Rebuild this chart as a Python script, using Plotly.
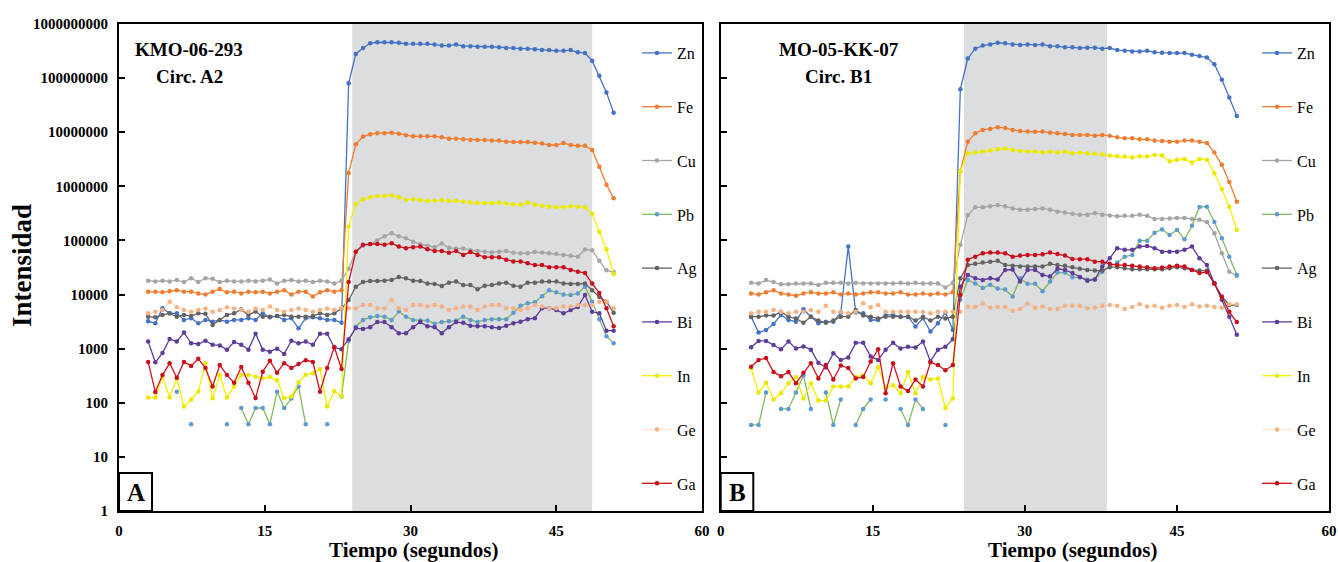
import plotly.graph_objects as go

# ---------------- data ----------------
TIME = [round(3 + 0.737 * i, 3) for i in range(66)]   # LA-ICP-MS sweep times (s)
ELEMENTS = ["Zn", "Fe", "Cu", "Pb", "Ag", "Bi", "In", "Ge", "Ga"]
X_TICKS = [0, 15, 30, 45, 60]
Y_TICKS = [1, 10, 100, 1000, 10000, 100000, 1000000, 10000000, 100000000, 1000000000]
Y_TICK_LABELS = ["1", "10", "100", "1000", "10000", "100000", "1000000", "10000000", "100000000", "1000000000"]
SHADE_A = [24.0, 48.7]
SHADE_B = [24.0, 38.1]
LABEL_A = ["KMO-06-293", "Circ. A2"]
LABEL_B = ["MO-05-KK-07", "Circ. B1"]

ZN_A = [3200, 2950, 5580, 4500, 4500, 3400, 3650, 2950, 3400, 3150, 3400, 3150, 3400, 3400, 3650, 3400, 4500, 3800, 4000, 3400, 3650, 2380, 3650, 3800, 3650, 3400, 3400, 3000,
        8e7, 2.8e8, 3.6e8, 4.4e8, 4.6e8, 4.6e8, 4.6e8, 4.5e8, 4.3e8, 4.3e8, 4.3e8, 4.3e8, 4.2e8, 4.0e8, 4.0e8, 4.2e8, 3.9e8, 3.9e8, 3.8e8, 3.8e8, 3.8e8, 3.7e8, 3.6e8, 3.6e8, 3.5e8, 3.5e8, 3.4e8, 3.3e8, 3.3e8, 3.2e8, 3.2e8, 3.3e8, 3.0e8, 2.9e8, 2.1e8, 1.1e8, 5.4e7, 2.3e7]
FE_A = [1.13e4, 1.13e4, 1.1e4, 1.15e4, 1.2e4, 1.13e4, 1.13e4, 1.05e4, 1.0e4, 1.13e4, 1.26e4, 1.1e4, 1.13e4, 1.05e4, 1.13e4, 1.1e4, 1.13e4, 1.05e4, 1.13e4, 1.2e4, 1.0e4, 1.13e4, 1.13e4, 9200, 1.1e4, 1.2e4, 1.13e4, 1.2e4,
        1.77e6, 6e6, 8.3e6, 9.2e6, 9.6e6, 9.6e6, 9.8e6, 9.4e6, 8.8e6, 8.4e6, 8.4e6, 8.4e6, 8.4e6, 8.1e6, 7.6e6, 7.6e6, 7.4e6, 7.2e6, 7.2e6, 7.2e6, 7.0e6, 7.0e6, 6.7e6, 6.6e6, 6.6e6, 6.6e6, 6.4e6, 6.2e6, 5.8e6, 5.8e6, 6.3e6, 5.8e6, 5.6e6, 5.6e6, 4.7e6, 2.3e6, 1.07e6, 6e5]
CU_A = [1.8e4, 1.75e4, 1.8e4, 1.75e4, 1.85e4, 1.7e4, 2.0e4, 1.7e4, 2.0e4, 1.95e4, 1.7e4, 1.8e4, 1.75e4, 1.75e4, 1.8e4, 1.75e4, 1.8e4, 1.9e4, 1.6e4, 1.8e4, 1.85e4, 1.75e4, 1.8e4, 1.7e4, 1.8e4, 1.75e4, 1.6e4, 1.8e4,
        3e4, 6.2e4, 8e4, 8.5e4, 1e5, 1.2e5, 1.36e5, 1.2e5, 1.1e5, 9.5e4, 8.5e4, 8e4, 7.5e4, 8.8e4, 7.3e4, 7.1e4, 7.1e4, 6.6e4, 6.4e4, 6.2e4, 6.0e4, 6.2e4, 6.4e4, 5.9e4, 5.8e4, 5.8e4, 6.1e4, 6.0e4, 5.8e4, 5.6e4, 5.4e4, 5.2e4, 5.0e4, 6.8e4, 6.6e4, 4.2e4, 2.8e4, 2.6e4]
PB_A = [None, None, None, None, 160, None, 40, None, None, None, None, 40, None, 80, 40, 80, 80, 40, 160, 80, 120, 200, 40, None, None, 40, None, 130,
        1400, 2550, 3400, 3800, 4000, 3900, 3400, 4850, 3900, 3400, 3300, 3300, 2900, 3100, 3200, 3300, 3900, 3400, 3100, 3400, 3500, 3500, 3500, 4600, 6200, 6900, 7200, 9300, 1.2e4, 1.1e4, 1.0e4, 9800, 1.05e4, 1.4e4, 7400, 3500, 1700, 1260]
AG_A = [3900, 3800, 4200, 4500, 3900, 4200, 4000, 4500, 4400, 2750, 3400, 4200, 4500, 5300, 4200, 4850, 3900, 3900, 4000, 4200, 3900, 3900, 3900, 4000, 4500, 4200, 4500, 5500,
        7900, 1.4e4, 1.7e4, 1.78e4, 1.78e4, 1.8e4, 1.86e4, 2.1e4, 2.0e4, 1.8e4, 1.78e4, 1.6e4, 1.57e4, 1.44e4, 1.66e4, 1.74e4, 1.5e4, 1.5e4, 1.25e4, 1.46e4, 1.5e4, 1.6e4, 1.66e4, 1.46e4, 1.4e4, 1.66e4, 1.66e4, 1.74e4, 1.74e4, 1.74e4, 1.6e4, 1.57e4, 1.57e4, 1.6e4, 1.2e4, 9000, 7400, 4600]
BI_A = [1350, 560, 830, 1510, 1350, 1990, 1260, 1220, 1400, 1180, 1150, 960, 1330, 1180, 960, 1880, 960, 880, 1000, 800, 1400, 1260, 1350, 1180, 1880, 1880, 1050, 980,
        1500, 2400, 2300, 2500, 3100, 3100, 2500, 1920, 1920, 2500, 3100, 2600, 2500, 1920, 2500, 3100, 3000, 2650, 2600, 2600, 2500, 2400, 2650, 2950, 3160, 3500, 3650, 5600, 5600, 5200, 4500, 5200, 5900, 9800, 4800, 4500, 2150, 2150]
IN_A = [125, 125, 304, 125, 284, 85, 115, 161, 537, 121, 327, 125, 200, 327, 327, 304, 284, 300, 260, 121, 130, 237, 330, 350, 420, 85, 165, 130,
        1.8e5, 4.7e5, 5.8e5, 6.3e5, 6.6e5, 6.6e5, 6.8e5, 6.3e5, 5.6e5, 5.8e5, 5.6e5, 5.4e5, 5.4e5, 5.6e5, 5.4e5, 5.4e5, 5.2e5, 5.0e5, 4.9e5, 4.9e5, 4.9e5, 5.0e5, 4.8e5, 4.6e5, 4.6e5, 5.0e5, 4.6e5, 4.4e5, 4.2e5, 4.1e5, 4.1e5, 4.3e5, 4.2e5, 4.1e5, 3.1e5, 1.45e5, 6.9e4, 2.4e4]
GE_A = [4500, 4800, 5200, 7400, 5800, 5200, 4800, 5200, 5500, 4800, 5200, 5800, 5500, 5200, 4800, 5500, 5200, 6000, 5200, 4800, 5200, 5500, 5200, 4800, 5200, 5500, 5200, 5600,
        5600, 5600, 6400, 6400, 5600, 5600, 7900, 5600, 5200, 6400, 6400, 6000, 6400, 6000, 5200, 5600, 6000, 6000, 5200, 6000, 6400, 6400, 5600, 5600, 5200, 5600, 6400, 6000, 5600, 5600, 6000, 6000, 6400, 6400, 6400, 7400, 7400, 5600]
GA_A = [570, 158, 325, 540, 290, 570, 480, 650, 440, 200, 500, 325, 235, 460, 235, 122, 375, 600, 360, 540, 440, 520, 610, 570, 160, 440, 1070, 420,
        1.7e4, 6.2e4, 8.3e4, 8.6e4, 8.6e4, 8.3e4, 8.9e4, 7.7e4, 7.2e4, 7.5e4, 7.7e4, 6.9e4, 6.4e4, 6.4e4, 5.9e4, 6.4e4, 5.4e4, 6.1e4, 5.4e4, 4.9e4, 4.9e4, 4.9e4, 4.4e4, 4.1e4, 4.1e4, 3.8e4, 3.5e4, 3.5e4, 3.2e4, 3.2e4, 3.2e4, 2.85e4, 2.65e4, 2.5e4, 1.6e4, 1.07e4, 5.6e3, 2.6e3]

ZN_B = [3900, 1980, 2220, 2860, 4200, 3390, 3150, 5350, 3900, 2940, 3150, 3150, 4650, 7.7e4, 4650, 4500, 3390, 3390, 4200, 4200, 3900, 3900, 2560, 3640, 2070, 2940, 4650, 2220,
        6.2e7, 2.3e8, 3.5e8, 4.0e8, 4.2e8, 4.5e8, 4.4e8, 4.2e8, 4.1e8, 4.2e8, 4.1e8, 4.2e8, 3.9e8, 3.9e8, 3.7e8, 3.7e8, 3.6e8, 3.65e8, 3.65e8, 3.5e8, 3.6e8, 3.3e8, 3.2e8, 3.1e8, 3.1e8, 3.2e8, 3.0e8, 2.95e8, 2.9e8, 2.9e8, 2.9e8, 2.7e8, 2.55e8, 2.4e8, 1.8e8, 9.3e7, 4.4e7, 2.0e7]
FE_B = [1.05e4, 1.0e4, 1.1e4, 1.2e4, 1.05e4, 1.0e4, 9.5e3, 1.05e4, 1.1e4, 1.05e4, 1.05e4, 1.1e4, 1.0e4, 1.05e4, 1.0e4, 1.05e4, 1.1e4, 1.1e4, 1.05e4, 1.05e4, 1.1e4, 1.0e4, 1.0e4, 1.05e4, 1.0e4, 1.05e4, 1.0e4, 1.1e4,
        1.9e6, 6.7e6, 9.6e6, 1.1e7, 1.15e7, 1.23e7, 1.2e7, 1.1e7, 1.05e7, 1.03e7, 1.02e7, 1.03e7, 9.8e6, 9.6e6, 9.3e6, 8.9e6, 8.9e6, 8.9e6, 8.6e6, 8.9e6, 8.6e6, 8.1e6, 7.7e6, 7.7e6, 7.4e6, 7.4e6, 7.0e6, 6.9e6, 6.7e6, 6.7e6, 7.0e6, 7.0e6, 6.7e6, 6.3e6, 4.2e6, 2.5e6, 1.2e6, 5.2e5]
CU_B = [1.65e4, 1.6e4, 1.85e4, 1.7e4, 1.55e4, 1.55e4, 1.6e4, 1.6e4, 1.6e4, 1.5e4, 1.65e4, 1.65e4, 1.65e4, 1.6e4, 1.65e4, 1.6e4, 1.6e4, 1.6e4, 1.6e4, 1.6e4, 1.65e4, 1.6e4, 1.65e4, 1.6e4, 1.6e4, 1.6e4, 1.35e4, 1.65e4,
        8.3e4, 2.95e5, 4.1e5, 4.1e5, 4.3e5, 4.5e5, 4.3e5, 3.9e5, 3.7e5, 3.7e5, 3.8e5, 3.9e5, 3.7e5, 3.4e5, 3.3e5, 3.1e5, 3.0e5, 3.0e5, 3.2e5, 3.0e5, 2.9e5, 2.8e5, 2.85e5, 2.85e5, 3.0e5, 2.85e5, 2.5e5, 2.5e5, 2.55e5, 2.6e5, 2.6e5, 2.5e5, 2.4e5, 2.2e5, 1.36e5, 5.8e4, 2.65e4, 2.2e4]
PB_B = [39, 39, 155, None, 77, 77, 155, 320, 77, None, 155, 39, 115, None, 39, 77, 115, None, 115, None, 77, 39, 115, 77, None, None, 39, None,
        8e3, 1.86e4, 1.6e4, 1.32e4, 1.52e4, 1.29e4, 1.24e4, 9.2e3, 2.0e4, 1.58e4, 1.58e4, 1.15e4, 1.74e4, 2.55e4, 2.55e4, 2.08e4, 2.08e4, 1.9e4, 1.9e4, 2.65e4, 3.3e4, 3.9e4, 5.0e4, 5.4e4, 9.9e4, 9.9e4, 1.39e5, 1.6e5, 1.26e5, 1.56e5, 1.05e5, 1.86e5, 4.15e5, 4.2e5, 2.2e5, 1.1e5, 5e4, 2.3e4]
AG_B = [3900, 3900, 4100, 4100, 4800, 3900, 3600, 3000, 3900, 3300, 3000, 3300, 3900, 3900, 5200, 4100, 3900, 3600, 3900, 3900, 3900, 3900, 3300, 3900, 3300, 3900, 3600, 3900,
        2.0e4, 3.5e4, 3.7e4, 3.9e4, 4.06e4, 4.2e4, 3.5e4, 3.4e4, 3.3e4, 3.3e4, 3.3e4, 3.3e4, 3.7e4, 3.5e4, 3.4e4, 3.2e4, 3.0e4, 2.85e4, 2.77e4, 2.77e4, 3.2e4, 3.2e4, 3.06e4, 2.93e4, 2.93e4, 2.93e4, 2.93e4, 2.93e4, 3.06e4, 3.2e4, 3.06e4, 2.85e4, 2.77e4, 2.77e4, 1.6e4, 9.2e3, 6.4e3, 6.4e3]
BI_B = [1060, 1390, 1390, 1170, 975, 1350, 1010, 1100, 960, 550, 450, 820, 620, 690, 1280, 1280, 720, 620, 960, 1280, 1010, 1080, 1050, 1350, 580, 960, 1080, 1500,
        1.4e4, 2.3e4, 2.0e4, 1.86e4, 2.0e4, 1.9e4, 2.85e4, 2.9e4, 1.74e4, 2.85e4, 2.85e4, 2.3e4, 2.15e4, 3.0e4, 2.85e4, 2.5e4, 2.1e4, 1.8e4, 1.9e4, 3.3e4, 4.7e4, 7.2e4, 6.7e4, 6.7e4, 7.7e4, 7.9e4, 7.2e4, 6.2e4, 6.2e4, 6.2e4, 6.7e4, 7.7e4, 4.7e4, 3.5e4, 1.6e4, 8e3, 3.9e3, 1.8e3]
IN_B = [430, 155, 235, 115, 150, 230, 300, 120, 230, 110, 110, 200, 200, 200, 300, 320, 230, 460, 190, 210, 150, 370, 150, 300, 270, 280, 80, 120,
        1.9e6, 4.1e6, 4.2e6, 4.4e6, 4.6e6, 4.9e6, 5.0e6, 4.7e6, 4.5e6, 4.4e6, 4.4e6, 4.2e6, 4.4e6, 4.2e6, 4.4e6, 4.1e6, 4.2e6, 4.1e6, 4.0e6, 3.9e6, 3.7e6, 3.6e6, 3.55e6, 3.4e6, 3.6e6, 3.55e6, 3.8e6, 3.7e6, 2.9e6, 3.1e6, 3.2e6, 2.75e6, 3.2e6, 3.1e6, 1.74e6, 8.9e5, 4.2e5, 1.56e5]
GE_B = [4500, 4800, 4800, 5200, 4800, 4500, 4800, 4800, 5200, 4800, 6200, 4800, 4800, 4500, 4800, 6900, 5800, 6400, 4800, 4800, 4800, 4800, 4800, 4800, 4500, 4800, 4800, 4800,
        4.8e3, 5.9e3, 5.9e3, 6.8e3, 5.7e3, 5.9e3, 5.9e3, 5.0e3, 5.4e3, 6.8e3, 5.7e3, 6.0e3, 5.4e3, 5.4e3, 6.2e3, 6.2e3, 6.2e3, 5.6e3, 5.7e3, 6.2e3, 6.4e3, 6.2e3, 5.4e3, 5.9e3, 6.6e3, 6.0e3, 6.2e3, 5.7e3, 6.2e3, 6.4e3, 5.9e3, 6.6e3, 6.0e3, 6.2e3, 5.9e3, 5.7e3, 6.6e3, 6.6e3]
GA_B = [465, 620, 670, 370, 310, 370, 230, 360, 540, 280, 500, 270, 490, 440, 280, 300, 580, 980, 150, 540, 200, 165, 270, 200, 560, 500, 400, 500,
        9.8e3, 4.4e4, 5.0e4, 5.8e4, 5.96e4, 5.96e4, 5.8e4, 5.0e4, 5.25e4, 5.4e4, 5.4e4, 5.55e4, 5.96e4, 5.6e4, 5.25e4, 4.55e4, 4.5e4, 4.5e4, 4.06e4, 4.06e4, 3.7e4, 3.5e4, 3.5e4, 3.4e4, 3.3e4, 3.2e4, 3.06e4, 3.15e4, 3.3e4, 3.4e4, 3.3e4, 2.85e4, 2.5e4, 2.6e4, 1.6e4, 9e3, 4.8e3, 3.1e3]

SERIES_A = [ZN_A, FE_A, CU_A, PB_A, AG_A, BI_A, IN_A, GE_A, GA_A]
SERIES_B = [ZN_B, FE_B, CU_B, PB_B, AG_B, BI_B, IN_B, GE_B, GA_B]
for s in SERIES_A + SERIES_B:
    assert len(s) == len(TIME), len(s)

# ---------------- styles ----------------
LINE_COLORS = ["#4472C4", "#ED7D31", "#A5A5A5", "rgba(112,173,71,0.85)", "#636363",
               "#5E3C99", "#F2F200", "rgba(244,177,131,0.35)", "#D0101C"]
MARKER_COLORS = ["#4472C4", "#ED7D31", "#A5A5A5", "#5B9BD5", "#636363",
                 "#5E3C99", "#E8E800", "#F4B183", "#C8101C"]
FONT = "Liberation Serif"
W, H = 1338, 562


def px_x(p):
    return p / W


def px_y(p):
    return 1 - p / H


fig = go.Figure()
for panel, series, xa, ya, lg in [("A", SERIES_A, "x", "y", "legend"),
                                  ("B", SERIES_B, "x2", "y2", "legend2")]:
    for name, vals, lc, mc in zip(ELEMENTS, series, LINE_COLORS, MARKER_COLORS):
        fig.add_trace(go.Scatter(
            x=TIME, y=vals, name=name, mode="lines+markers",
            xaxis=xa, yaxis=ya, legend=lg, legendgroup=panel + name,
            line=dict(color=lc, width=1.3),
            marker=dict(color=mc, size=4.5),
            connectgaps=False,
        ))

axis_common = dict(showline=True, linewidth=2, linecolor="black", mirror=True,
                   showgrid=False, zeroline=False, ticks="inside", ticklen=6,
                   tickwidth=2, tickcolor="black",
                   tickfont=dict(family=FONT, size=15, color="black", weight="bold"),
                   automargin=False)

ydom = [px_y(511), px_y(24)]
fig.update_layout(
    width=W, height=H, margin=dict(l=0, r=0, t=0, b=0),
    paper_bgcolor="white", plot_bgcolor="white",
    font=dict(family=FONT, color="black"),
    xaxis=dict(domain=[px_x(119), px_x(702)], range=[0, 60], tickvals=X_TICKS,
               anchor="y", ticklabelstandoff=5, **axis_common),
    yaxis=dict(domain=ydom, type="log", range=[0, 9], tickvals=Y_TICKS,
               ticktext=Y_TICK_LABELS, anchor="x", ticklabelstandoff=6, **axis_common),
    xaxis2=dict(domain=[px_x(720.7), px_x(1329)], range=[0, 60], tickvals=X_TICKS,
                anchor="y2", ticklabelstandoff=5, **axis_common),
    yaxis2=dict(domain=ydom, type="log", range=[0, 9], tickvals=Y_TICKS,
                showticklabels=False, anchor="x2", **axis_common),
    legend=dict(x=px_x(637), y=px_y(36), xanchor="left", yanchor="top",
                traceorder="grouped", tracegroupgap=30, itemwidth=30,
                bgcolor="rgba(0,0,0,0)", font=dict(family=FONT, size=16, color="black")),
    legend2=dict(x=px_x(1257), y=px_y(36), xanchor="left", yanchor="top",
                 traceorder="grouped", tracegroupgap=30, itemwidth=30,
                 bgcolor="rgba(0,0,0,0)", font=dict(family=FONT, size=16, color="black")),
    showlegend=True,
)

# shaded integration windows
for shade, xa, ya in [(SHADE_A, "x", "y"), (SHADE_B, "x2", "y2")]:
    fig.add_shape(type="rect", xref=xa, yref=ya + " domain", x0=shade[0], x1=shade[1],
                  y0=0, y1=1, fillcolor="#DCDDDF", line_width=0, layer="below")

# panel letter boxes
for letter, x0, x1 in [("A", 119, 152), ("B", 720.7, 753.3)]:
    fig.add_shape(type="rect", xref="paper", yref="paper",
                  x0=px_x(x0), x1=px_x(x1), y0=px_y(511), y1=px_y(473),
                  line=dict(color="black", width=2), fillcolor="white", layer="above")
    fig.add_annotation(text=letter, xref="paper", yref="paper",
                       x=px_x((x0 + x1) / 2), y=px_y(492.5), showarrow=False,
                       xanchor="center", yanchor="middle",
                       font=dict(family=FONT, size=25, color="black", weight="bold"))

# sample labels
for lbl, cx in [(LABEL_A, 189), (LABEL_B, 838.5)]:
    for txt, cy in zip(lbl, [49, 76]):
        fig.add_annotation(text=txt, xref="paper", yref="paper", x=px_x(cx), y=px_y(cy),
                           showarrow=False, xanchor="center", yanchor="middle",
                           font=dict(family=FONT, size=19, color="black", weight="bold"))

# axis titles
fig.add_annotation(text="Intensidad", xref="paper", yref="paper", x=px_x(22), y=px_y(266),
                   textangle=-90, showarrow=False, xanchor="center", yanchor="middle",
                   font=dict(family=FONT, size=27, color="black", weight="bold"))
for cx in [413, 1072]:
    fig.add_annotation(text="Tiempo (segundos)", xref="paper", yref="paper",
                       x=px_x(cx), y=px_y(550), showarrow=False,
                       xanchor="center", yanchor="middle",
                       font=dict(family=FONT, size=21, color="black", weight="bold"))

fig.write_html("out.html", config={"displayModeBar": False},
               post_script="document.body.style.margin='0';")
